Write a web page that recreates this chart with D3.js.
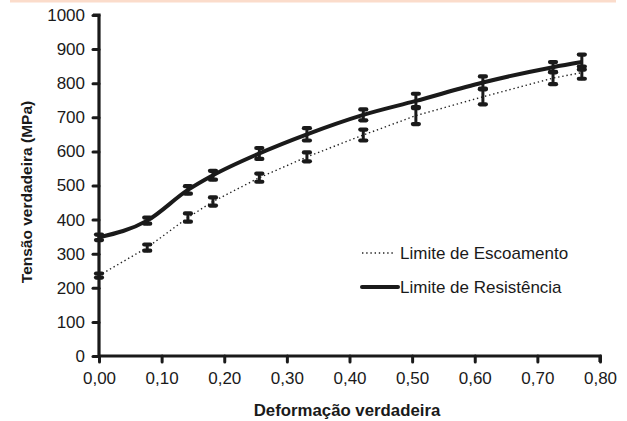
<!DOCTYPE html>
<html><head><meta charset="utf-8">
<script src="https://cdn.jsdelivr.net/npm/d3@7"></script>
<style>body{margin:0;background:#fff}svg{display:block}text{font-family:"Liberation Sans",Arial,sans-serif;fill:#1a1a1a}</style>
</head><body>
<script>
const strain = [0.00, 0.077, 0.142, 0.182, 0.256, 0.332, 0.422, 0.506, 0.613, 0.725, 0.771];
const resistencia = [348, 397, 487, 530, 594, 650, 707, 748, 802, 847, 862];
const resistenciaErr = [8, 9, 11, 13, 16, 18, 16, 21, 18, 15, 22];
const escoamento = [236, 318, 406, 453, 523, 584, 648, 705, 760, 815, 831];
const escoamentoErr = [6, 9, 12, 12, 12, 13, 16, 25, 22, 18, 18];
const xTicks = [0, 0.1, 0.2, 0.3, 0.4, 0.5, 0.6, 0.7, 0.8];
const yTicks = [0, 100, 200, 300, 400, 500, 600, 700, 800, 900, 1000];
const legendLabels = ["Limite de Escoamento", "Limite de Resistência"];

const W = 627, H = 421;
const svg = d3.select("body").append("svg").attr("width", W).attr("height", H);
svg.append("rect").attr("x", 10).attr("y", 0).attr("width", 606).attr("height", 2.5).attr("fill", "#fbdccb");

const x = d3.scaleLinear().domain([0, 0.8]).range([99, 600]);
const y = d3.scaleLinear().domain([0, 1000]).range([356, 15]);
const ink = "#1a1a1a";
const fmt = d => d3.format(".2f")(d).replace(".", ",");

// axes
const xAxis = svg.append("g").attr("transform", "translate(0,356)")
  .call(d3.axisBottom(x).tickValues(xTicks).tickFormat(fmt).tickSize(6).tickPadding(10));
const yAxis = svg.append("g").attr("transform", "translate(99,0)")
  .call(d3.axisLeft(y).tickValues(yTicks).tickFormat(d3.format("d")).tickSize(6).tickPadding(8));
[xAxis, yAxis].forEach(g => {
  g.select(".domain").attr("stroke", ink).attr("stroke-width", 3.2);
  g.selectAll(".tick line").attr("stroke", ink).attr("stroke-width", 3).attr("stroke-linecap", "round");
  g.selectAll(".tick text").attr("font-size", 17).attr("fill", ink)
    .style("font-family", '"Liberation Sans", Arial, sans-serif');
});
xAxis.select(".domain").attr("d", "M99,0H600V6");
yAxis.select(".domain").attr("d", "M-6,15H0V356");

// titles
svg.append("text").attr("x", 347).attr("y", 416).attr("text-anchor", "middle")
  .attr("font-size", 16.8).attr("font-weight", "bold").text("Deformação verdadeira");
svg.append("text").attr("transform", "translate(32,192) rotate(-90)").attr("text-anchor", "middle")
  .attr("font-size", 15.5).attr("font-weight", "bold").text("Tensão verdadeira (MPa)");

// lines
const esc = strain.map((s, i) => ({s, v: escoamento[i], e: escoamentoErr[i]}));
const res = strain.map((s, i) => ({s, v: resistencia[i], e: resistenciaErr[i]}));
const line = d3.line().x(d => x(d.s)).y(d => y(d.v));

svg.append("path").datum(esc).attr("d", line.curve(d3.curveLinear))
  .attr("fill", "none").attr("stroke", "#222").attr("stroke-width", 1.4).attr("stroke-dasharray", "1.4,2.8");
svg.append("path").datum(res).attr("d", line.curve(d3.curveMonotoneX))
  .attr("fill", "none").attr("stroke", ink).attr("stroke-width", 4).attr("stroke-linejoin", "round");

// error bars
function errBars(data) {
  const g = svg.append("g").attr("stroke", ink).attr("stroke-linecap", "round");
  data.forEach(d => {
    const cx = x(d.s), y1 = y(d.v - d.e), y2 = y(d.v + d.e);
    g.append("line").attr("x1", cx).attr("x2", cx).attr("y1", y1).attr("y2", y2).attr("stroke-width", 3);
    [y1, y2].forEach(yy => g.append("line").attr("x1", cx - 3).attr("x2", cx + 3)
      .attr("y1", yy).attr("y2", yy).attr("stroke-width", 4.2));
  });
}
errBars(esc);
errBars(res);

// legend
const lg = svg.append("g");
lg.append("line").attr("x1", 362).attr("x2", 395).attr("y1", 253).attr("y2", 253)
  .attr("stroke", "#222").attr("stroke-width", 1.4).attr("stroke-dasharray", "1.4,2.8");
lg.append("line").attr("x1", 362).attr("x2", 398).attr("y1", 287).attr("y2", 287)
  .attr("stroke", ink).attr("stroke-width", 4).attr("stroke-linecap", "round");
lg.append("text").attr("x", 400).attr("y", 259).attr("font-size", 17).text(legendLabels[0]);
lg.append("text").attr("x", 400).attr("y", 293).attr("font-size", 17).text(legendLabels[1]);
</script>
</body></html>
